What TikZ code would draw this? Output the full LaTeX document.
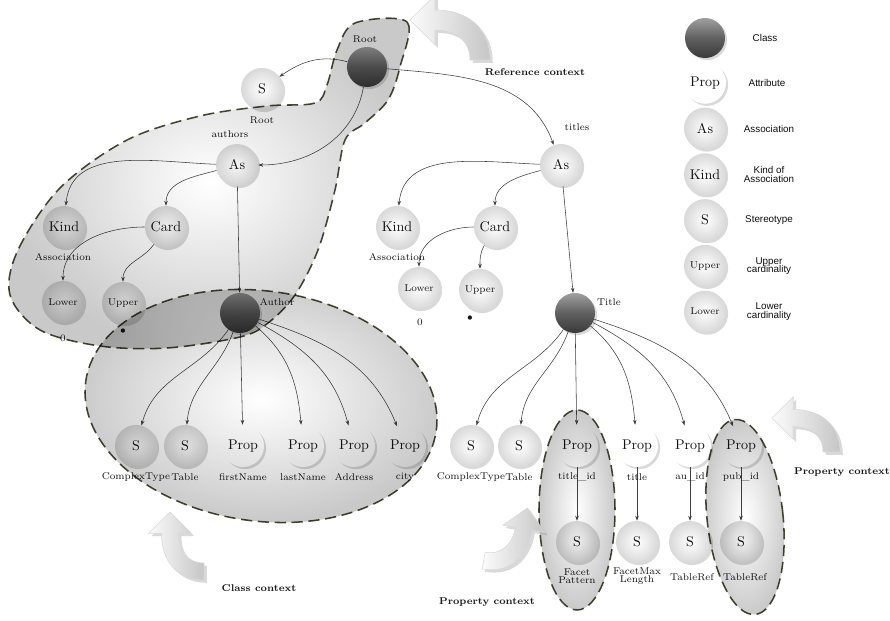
\documentclass[tikz,border=0pt]{standalone}
\usepackage{fontspec}
\newfontfamily\legendfont{Liberation Sans}
\usetikzlibrary{arrows.meta,shadows,positioning}

\definecolor{ctxline}{RGB}{72,72,52}

\tikzset{
  base/.style={circle, inner sep=0pt, minimum size=1.05cm, text=gray!15!black,
    drop shadow={opacity=0.3, shadow xshift=1.5pt, shadow yshift=-1.5pt}},
  cls/.style={base, minimum size=1cm, top color=gray!75, bottom color=gray!45!black,
    middle color=gray!75!black},
  prop/.style={base, fill=white},
  sph/.style={base, inner color=white, outer color=gray!30},
  small sph/.style={sph, font=\scriptsize},
  lbl/.style={font=\scriptsize, text=gray!15!black, inner sep=1pt},
  ctxlbl/.style={font=\scriptsize\bfseries, text=gray!20!black},
  legtext/.style={font=\legendfont\scriptsize, align=center, text=gray!10!black},
  link/.style={-{Stealth[length=3.5pt,width=2.5pt]}, gray!50!black, line width=0.4pt},
  ctx/.style={draw=ctxline, line width=1.1pt, dash pattern=on 8pt off 4pt,
    inner color=white, outer color=gray!42},
  ctxarrow/.pic={
    \path[left color=gray!3, right color=gray!45, draw=gray!30, thin,
          drop shadow={opacity=0.3, shadow xshift=2pt, shadow yshift=-2pt}]
      (0,40) -- (25,65) -- (25,50) .. controls (60,50) and (80,30) .. (80,0)
      -- (60,0) .. controls (60,20) and (45,30) .. (25,30) -- (25,15) -- cycle;
  }
}

\begin{document}
\begin{tikzpicture}[x=0.025cm, y=0.025cm]
  \useasboundingbox (0,0) rectangle (890,620);

  % Legend
  \node[cls] (lgcls) at (705,582) {};
  \node[prop, below=0.08cm of lgcls] (lgprop) {Prop};
  \node[sph, below=0.08cm of lgprop] (lgas) {As};
  \node[sph, below=0.08cm of lgas] (lgkind) {Kind};
  \node[sph, below=0.08cm of lgkind] (lgst) {S};
  \node[small sph, below=0.08cm of lgst] (lgup) {Upper};
  \node[small sph, below=0.08cm of lgup] (lglow) {Lower};
  \node[legtext, xshift=1.5cm] (lgclstxt) at (lgcls) {Class};
  \node[legtext, xshift=1.55cm] (lgproptxt) at (lgprop) {Attribute};
  \node[legtext, xshift=1.6cm] (lgastxt) at (lgas) {Association};
  \node[legtext, xshift=1.6cm] (lgkindtxt) at (lgkind) {Kind of\\[-2pt]Association};
  \node[legtext, xshift=1.6cm] (lgsttxt) at (lgst) {Stereotype};
  \node[legtext, xshift=1.6cm] (lguptxt) at (lgup) {Upper\\[-2pt]cardinality};
  \node[legtext, xshift=1.6cm] (lglowtxt) at (lglow) {Lower\\[-2pt]cardinality};

  % Root and the authors association
  \node[cls] (rootcls) at (367,553) {};
  \node[sph] (rootst) at (262,531) {S};
  \node[sph] (asA) at (237,455) {As};
  \node[sph] (kindA) at (64,393) {Kind};
  \node[sph] (cardA) at (166,393) {Card};
  \node[small sph] (lowA) at (63,318) {Lower};
  \node[small sph] (upA) at (123,317) {Upper};
  \node[cls] (authorcls) at (240,307) {};
  \node[sph] (ctA) at (136,174) {S};
  \node[sph] (tabA) at (185,174) {S};
  \node[prop] (fnA) at (243,174) {Prop};
  \node[prop] (lnA) at (303,174) {Prop};
  \node[prop] (adA) at (354,174) {Prop};
  \node[prop] (cityA) at (405,174) {Prop};

  % The titles association
  \node[sph] (asT) at (561,455) {As};
  \node[sph] (kindT) at (397,393) {Kind};
  \node[sph] (cardT) at (495,393) {Card};
  \node[small sph] (lowT) at (419,332) {Lower};
  \node[small sph] (upT) at (480,330) {Upper};
  \node[cls] (titlecls) at (575,307) {};
  \node[sph] (ctT) at (471,174) {S};
  \node[sph] (tabT) at (519,174) {S};
  \node[prop] (tidT) at (577,174) {Prop};
  \node[prop] (ttlT) at (637,174) {Prop};
  \node[prop] (auT) at (690,174) {Prop};
  \node[prop] (pubT) at (741,174) {Prop};
  \node[sph] (tidS) at (577,78) {S};
  \node[sph] (ttlS) at (637,78) {S};
  \node[sph] (auS) at (690,78) {S};
  \node[sph] (pubS) at (741,78) {S};

  % Connectors
  \draw[link] (rootcls) to[out=165, in=35] (rootst);
  \draw[link] (rootcls) to[out=-100, in=0] (asA);
  \draw[link] (rootcls) to[out=-5, in=110] (asT);
  \draw[link] (asA) to[out=178, in=85] (kindA);
  \draw[link] (asA) to[out=195, in=90] (cardA);
  \draw[link] (asA) -- (authorcls);
  \draw[link] (cardA) to[out=180, in=90] (lowA);
  \draw[link] (cardA) to[out=235, in=90] (upA);
  \draw[link] (authorcls) to[out=235, in=75] (ctA);
  \draw[link] (authorcls) to[out=250, in=85] (tabA);
  \draw[link] (authorcls) -- (fnA);
  \draw[link] (authorcls) to[out=-40, in=95] (lnA);
  \draw[link] (authorcls) to[out=-28, in=105] (adA);
  \draw[link] (authorcls) to[out=-18, in=112] (cityA);
  \draw[link] (asT) to[out=178, in=85] (kindT);
  \draw[link] (asT) to[out=195, in=90] (cardT);
  \draw[link] (asT) -- (titlecls);
  \draw[link] (cardT) to[out=180, in=90] (lowT);
  \draw[link] (cardT) to[out=240, in=90] (upT);
  \draw[link] (titlecls) to[out=235, in=75] (ctT);
  \draw[link] (titlecls) to[out=250, in=85] (tabT);
  \draw[link] (titlecls) -- (tidT);
  \draw[link] (titlecls) to[out=-40, in=95] (ttlT);
  \draw[link] (titlecls) to[out=-28, in=105] (auT);
  \draw[link] (titlecls) to[out=-18, in=112] (pubT);
  \draw[link] (tidT) -- (tidS);
  \draw[link] (ttlT) -- (ttlS);
  \draw[link] (auT) -- (auS);
  \draw[link] (pubT) -- (pubS);

  % Labels
  \node[lbl] (lbroot) at (365,581) {Root};
  \node[lbl] (lbrootst) at (262,500) {Root};
  \node[lbl] (lbauthors) at (230,486) {authors};
  \node[lbl] (lbassocA) at (63,363) {Association};
  \node[lbl] (lblowA) at (63,282) {0};
  \node[lbl] (lbupA) at (123,289) {$\bullet$};
  \node[lbl] (lbauthor) at (277,318) {Author};
  \node[lbl] (lbctA) at (136,143) {ComplexType};
  \node[lbl] (lbtabA) at (185,143) {Table};
  \node[lbl] (lbfnA) at (243,143) {firstName};
  \node[lbl] (lblnA) at (303,143) {lastName};
  \node[lbl] (lbadA) at (354,143) {Address};
  \node[lbl] (lbcityA) at (405,143) {city};
  \node[lbl] (lbtitles) at (577,493) {titles};
  \node[lbl] (lbassocT) at (397,363) {Association};
  \node[lbl] (lblowT) at (420,298) {0};
  \node[lbl] (lbupT) at (470,302) {$\bullet$};
  \node[lbl] (lbtitle) at (609,318) {Title};
  \node[lbl] (lbctT) at (471,143) {ComplexType};
  \node[lbl] (lbtabT) at (519,143) {Table};
  \node[lbl] (lbtidT) at (577,143) {title\_id};
  \node[lbl] (lbttlT) at (637,143) {title};
  \node[lbl] (lbauT) at (690,143) {au\_id};
  \node[lbl] (lbpubT) at (741,143) {pub\_id};
  \node[lbl, align=center] (lbtidS) at (577,44) {Facet\\[-2pt]Pattern};
  \node[lbl, align=center] (lbttlS) at (637,44) {FacetMax\\[-2pt]Length};
  \node[lbl] (lbauS) at (692,43) {TableRef};
  \node[lbl] (lbpubS) at (745,43) {TableRef};

  % Contexts
  \begin{scope}[blend mode=multiply]
    \path[ctx] plot[smooth cycle, tension=0.55] coordinates {
      (355,597) (407,598) (400,553) (388,520) (365,497) (345,480) (335,430)
      (318,370) (295,325) (268,297) (240,283) (167,272) (100,274) (40,290)
      (10,325) (18,370) (60,432) (127,480) (200,504) (267,514) (315,517)
      (327,535) (337,570)};
    \path[ctx, rotate around={-8:(261,214)}] (261,214) ellipse [x radius=177, y radius=115];
    \path[ctx] (577,110) ellipse [x radius=38, y radius=100];
    \path[ctx, rotate around={6:(745,103)}] (745,103) ellipse [x radius=38, y radius=98];
  \end{scope}

  % Context pointers
  \pic at (410,560) {ctxarrow};
  \pic[rotate=90, xscale=-1, scale=0.85] at (204,108) {ctxarrow};
  \pic[rotate=-100, scale=0.85] at (494,118) {ctxarrow};
  \pic[scale=0.85] at (772,168) {ctxarrow};
  \node[ctxlbl] (lbrefctx) at (535,548) {Reference context};
  \node[ctxlbl] (lbclsctx) at (259,32) {Class context};
  \node[ctxlbl] (lbpropctxa) at (487,18) {Property context};
  \node[ctxlbl] (lbpropctxb) at (842,148) {Property context};
\end{tikzpicture}
\end{document}
